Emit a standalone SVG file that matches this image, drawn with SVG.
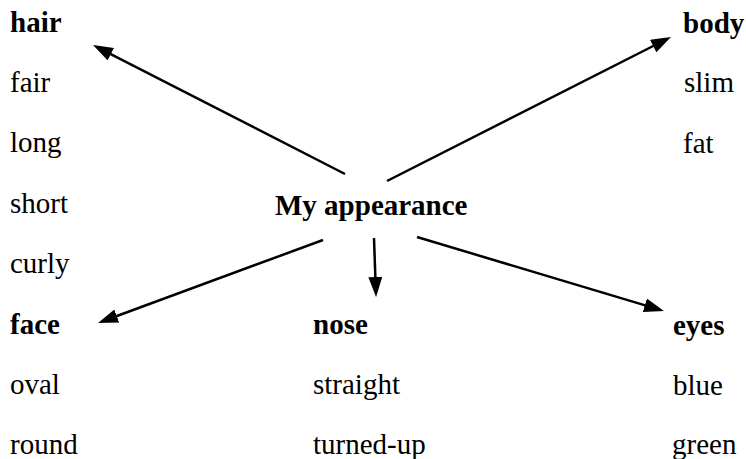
<svg xmlns="http://www.w3.org/2000/svg" width="746" height="459" viewBox="0 0 746 459">
<style>
text{font-family:"Liberation Serif","Times New Roman",serif;font-size:29px;fill:#000}
.b{font-weight:bold}
.c line{stroke:#000;stroke-width:2.5;fill:none}
</style>
<defs>
<marker id="ah" markerUnits="userSpaceOnUse" markerWidth="20" markerHeight="14" refX="10" refY="7" orient="auto" viewBox="0 0 20 14">
<path d="M0,0 L20,7 L0,14 z" fill="#000"/>
</marker>
</defs>
<rect width="746" height="459" fill="#fff"/>
<g class="c" id="connectors">
<line x1="345" y1="174" x2="101.9" y2="49.6" marker-end="url(#ah)"/>
<line x1="387" y1="181" x2="662.1" y2="41.5" marker-end="url(#ah)"/>
<line x1="323" y1="240" x2="107.4" y2="319.5" marker-end="url(#ah)"/>
<line x1="374" y1="238" x2="375.7" y2="287" marker-end="url(#ah)"/>
<line x1="417" y1="237" x2="654.4" y2="308.1" marker-end="url(#ah)"/>
</g>
<g id="center"><text class="b" x="275" y="215">My appearance</text></g>
<g id="hair">
<text class="b" x="10" y="32">hair</text>
<text x="10" y="92">fair</text>
<text x="10" y="152">long</text>
<text x="10" y="213">short</text>
<text x="10" y="273">curly</text>
</g>
<g id="body">
<text class="b" x="683" y="33">body</text>
<text x="684" y="92">slim</text>
<text x="683" y="153">fat</text>
</g>
<g id="face">
<text class="b" x="10" y="334">face</text>
<text x="10" y="394">oval</text>
<text x="10" y="454">round</text>
</g>
<g id="nose">
<text class="b" x="313" y="334">nose</text>
<text x="313" y="394">straight</text>
<text x="313" y="454">turned-up</text>
</g>
<g id="eyes">
<text class="b" x="673" y="335">eyes</text>
<text x="673" y="395">blue</text>
<text x="672" y="454">green</text>
</g>
</svg>
